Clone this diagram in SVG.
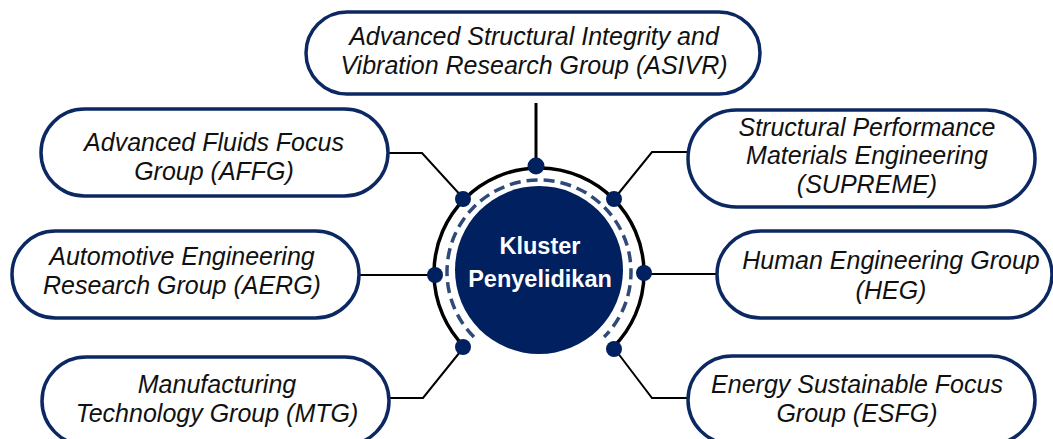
<svg xmlns="http://www.w3.org/2000/svg" width="1053" height="439" viewBox="0 0 1053 439">
  <style>
    .pill { fill: #ffffff; stroke: #0c2862; stroke-width: 3.5; }
    .lbl { font-family: "Liberation Sans", Arial, sans-serif; font-style: italic; font-size: 25px; fill: #111111; text-anchor: middle; }
    .conn { fill: none; stroke: #000000; stroke-width: 2; }
    .dot { fill: #002060; }
    .hub { font-family: "Liberation Sans", Arial, sans-serif; font-weight: bold; font-size: 23.5px; fill: #ffffff; text-anchor: middle; }
  </style>
  <rect width="1053" height="439" fill="#ffffff"/>

  <g id="connectors">
    <line class="conn" x1="536" y1="103" x2="536" y2="166" style="stroke-width:3"/>
    <polyline class="conn" points="388,153 422,153 464,199"/>
    <polyline class="conn" points="688,152 652,152 614,199"/>
    <line class="conn" x1="359" y1="275" x2="435" y2="275"/>
    <line class="conn" x1="644" y1="274" x2="717" y2="274"/>
    <polyline class="conn" points="389,398 423,398 464,347"/>
    <polyline class="conn" points="688,398 652,398 614,348"/>
  </g>

  <g id="hub">
    <path d="M 464.8 347.2 A 105 105 0 1 1 613.2 347.2" fill="none" stroke="#000000" stroke-width="3.5"/>
    <path d="M 473.95 337.05 A 92 92 0 1 1 604.05 337.05" fill="none" stroke="#2f4a78" stroke-width="3.5" stroke-dasharray="11 6"/>
    <circle cx="539" cy="270" r="84" fill="#002060"/>
    <text class="hub" x="540" y="254">Kluster</text>
    <text class="hub" x="540" y="287">Penyelidikan</text>
    <circle class="dot" cx="536" cy="166" r="8.5"/>
    <circle class="dot" cx="463" cy="199" r="8"/>
    <circle class="dot" cx="614" cy="199" r="8"/>
    <circle class="dot" cx="435" cy="275" r="8"/>
    <circle class="dot" cx="644" cy="273" r="8"/>
    <circle class="dot" cx="463" cy="347" r="8"/>
    <circle class="dot" cx="614" cy="349" r="8"/>
  </g>

  <g id="node-asivr">
    <rect class="pill" x="306" y="12" width="454" height="82" rx="41"/>
    <text class="lbl" x="534" y="45">Advanced Structural Integrity and</text>
    <text class="lbl" x="534" y="74">Vibration Research Group (ASIVR)</text>
  </g>

  <g id="node-affg">
    <rect class="pill" x="41" y="109" width="347" height="87" rx="43.5"/>
    <text class="lbl" x="214" y="151">Advanced Fluids Focus</text>
    <text class="lbl" x="214" y="180">Group (AFFG)</text>
  </g>

  <g id="node-supreme">
    <rect class="pill" x="688" y="110" width="347" height="97" rx="48.5"/>
    <text class="lbl" x="867" y="136">Structural Performance</text>
    <text class="lbl" x="867" y="164">Materials Engineering</text>
    <text class="lbl" x="867" y="193">(SUPREME)</text>
  </g>

  <g id="node-aerg">
    <rect class="pill" x="12" y="231" width="347" height="87" rx="43.5"/>
    <text class="lbl" x="182" y="265">Automotive Engineering</text>
    <text class="lbl" x="182" y="294">Research Group (AERG)</text>
  </g>

  <g id="node-heg">
    <rect class="pill" x="717" y="231" width="335" height="87" rx="43.5"/>
    <text class="lbl" x="891" y="269">Human Engineering Group</text>
    <text class="lbl" x="891" y="299">(HEG)</text>
  </g>

  <g id="node-mtg">
    <rect class="pill" x="42" y="357" width="347" height="88" rx="44"/>
    <text class="lbl" x="217" y="393">Manufacturing</text>
    <text class="lbl" x="217" y="422">Technology Group (MTG)</text>
  </g>

  <g id="node-esfg">
    <rect class="pill" x="688" y="356" width="347" height="88" rx="44"/>
    <text class="lbl" x="857" y="393">Energy Sustainable Focus</text>
    <text class="lbl" x="857" y="422">Group (ESFG)</text>
  </g>
</svg>
